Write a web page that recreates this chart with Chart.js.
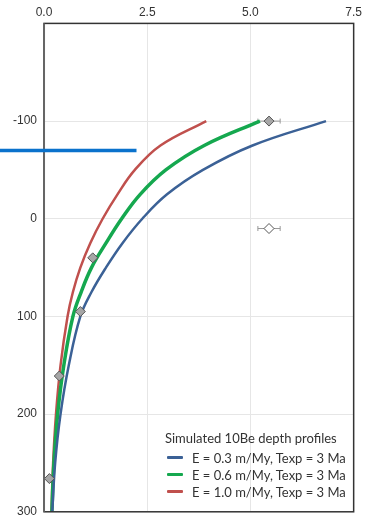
<!DOCTYPE html>
<html>
<head>
<meta charset="utf-8">
<script src="https://cdn.jsdelivr.net/npm/chart.js@4.4.1/dist/chart.umd.min.js"></script>
<style>
  html, body { margin: 0; padding: 0; background: #fff; }
  #wrap { position: relative; width: 366px; height: 520px; overflow: hidden; }
  #legend { position: absolute; left: 165px; top: 430px; font-family: Lato, "Open Sans", sans-serif; font-size: 13px; color: #333; }
  #legend .title { margin-bottom: 3px; }
  #legend .row { display: flex; align-items: center; height: 17px; padding-left: 2px; }
  #legend .swatch { width: 16px; height: 3px; margin-right: 9px; border-radius: 1px; }
</style>
</head>
<body>
<div id="wrap">
  <canvas id="chart" width="366" height="526"></canvas>
  <div id="legend"></div>
</div>
<script>
// Depth (cm) shared by the three simulated profiles
const depths = [-100, -75, -50, -25, 0, 25, 50, 75, 100, 150, 200, 250, 300];

// 10Be concentration
const profileLow  = [6.83, 5.05, 3.85, 2.98, 2.38, 1.9, 1.5, 1.15, 0.88, 0.6, 0.4, 0.27, 0.2];
const profileMid  = [5.23, 3.88, 2.95, 2.33, 1.88, 1.5, 1.15, 0.9, 0.7, 0.48, 0.33, 0.24, 0.19];
const profileHigh = [3.93, 2.82, 2.2, 1.78, 1.42, 1.12, 0.88, 0.7, 0.57, 0.4, 0.29, 0.22, 0.18];

const profileLabels = ["E = 0.3 m/My, Texp = 3 Ma", "E = 0.6 m/My, Texp = 3 Ma", "E = 1.0 m/My, Texp = 3 Ma"];
const profileColors = ["#3b6196", "#15a84f", "#c0504d"];
const legendTitle = "Simulated 10Be depth profiles";

// Measured samples (diamonds), the second one drawn hollow
const sampleConc  = [5.45, 5.45, 1.18, 0.88, 0.37, 0.13];
const sampleDepth = [-100, 10, 40, 95, 161, 266];
const sampleErr   = [0.27, 0.27, 0, 0, 0, 0];
const sampleFill  = ["#a6a6a6", "#ffffff", "#a6a6a6", "#a6a6a6", "#a6a6a6", "#a6a6a6"];

const xTicks = [0, 2.5, 5.0, 7.5];
const yTicks = [-100, 0, 100, 200, 300];

// Stray highlight bar on the figure
const markerBar = { depth: -70, concEnd: 2.24 };

const toPoints = (xs, ys) => xs.map((x, i) => ({ x, y: ys[i] }));

const lineSets = [profileLow, profileMid, profileHigh].map((vals, i) => ({
  label: profileLabels[i],
  data: toPoints(vals, depths),
  borderColor: profileColors[i],
  borderWidth: i === 1 ? 3.5 : 2.5,
  pointRadius: 0,
  tension: 0.4,
  showLine: true,
  fill: false,
  order: 2
}));

const sampleSet = {
  label: "samples",
  data: toPoints(sampleConc, sampleDepth),
  pointStyle: "rectRot",
  pointRadius: 5,
  pointBackgroundColor: sampleFill,
  pointBorderColor: "#555",
  pointBorderWidth: 1,
  showLine: false,
  order: 1
};

const framePlugin = {
  id: "frame",
  beforeDatasetsDraw(chart) {
    const { ctx, scales: { x, y } } = chart;
    // horizontal error bars
    ctx.save();
    ctx.strokeStyle = "#999";
    ctx.lineWidth = 1;
    sampleConc.forEach((c, i) => {
      if (!sampleErr[i]) return;
      const py = y.getPixelForValue(sampleDepth[i]);
      const x0 = x.getPixelForValue(c - sampleErr[i]);
      const x1 = x.getPixelForValue(c + sampleErr[i]);
      ctx.beginPath();
      ctx.moveTo(x0, py); ctx.lineTo(x1, py);
      ctx.moveTo(x0, py - 2.5); ctx.lineTo(x0, py + 2.5);
      ctx.moveTo(x1, py - 2.5); ctx.lineTo(x1, py + 2.5);
      ctx.stroke();
    });
    ctx.restore();
  },
  afterDraw(chart) {
    const { ctx, chartArea: a, scales: { x, y } } = chart;
    ctx.save();
    ctx.strokeStyle = "#333";
    ctx.lineWidth = 1.5;
    ctx.strokeRect(a.left, a.top, a.right - a.left, a.bottom - a.top);
    ctx.strokeStyle = "#666";
    ctx.lineWidth = 2;
    ctx.beginPath();
    ctx.moveTo(a.left, a.top); ctx.lineTo(a.left, a.bottom);
    ctx.stroke();
    // blue highlight bar
    ctx.strokeStyle = "#0a72cc";
    ctx.lineWidth = 3.5;
    const py = y.getPixelForValue(markerBar.depth);
    ctx.beginPath();
    ctx.moveTo(0, py);
    ctx.lineTo(x.getPixelForValue(markerBar.concEnd), py);
    ctx.stroke();
    ctx.restore();
  }
};

new Chart(document.getElementById("chart"), {
  type: "scatter",
  data: { datasets: [...lineSets, sampleSet] },
  options: {
    responsive: false,
    animation: false,
    layout: { padding: { left: 6, right: 6, top: 1, bottom: 0 } },
    plugins: { legend: { display: false }, tooltip: { enabled: false } },
    scales: {
      x: {
        type: "linear",
        position: "top",
        min: xTicks[0],
        max: xTicks[xTicks.length - 1],
        afterBuildTicks: (s) => { s.ticks = xTicks.map(v => ({ value: v })); },
        ticks: {
          color: "#333",
          padding: 4,
          font: { family: "'Liberation Sans', Arial, sans-serif", size: 12 },
          callback: v => v.toFixed(1)
        },
        grid: { color: "#e6e6e6", drawTicks: false },
        border: { display: false }
      },
      y: {
        type: "linear",
        reverse: true,
        min: -200,
        max: 300,
        afterBuildTicks: (s) => { s.ticks = [-200, ...yTicks].map(v => ({ value: v })); },
        ticks: {
          color: "#333",
          padding: 7,
          font: { family: "'Liberation Sans', Arial, sans-serif", size: 12 },
          callback: v => yTicks.includes(v) ? String(v) : ""
        },
        grid: { color: "#e6e6e6", drawTicks: false },
        border: { display: false }
      }
    }
  },
  plugins: [framePlugin]
});

// legend inside the plot, lower right
const legend = document.getElementById("legend");
legend.innerHTML = `<div class="title">${legendTitle}</div>` +
  profileLabels.map((l, i) =>
    `<div class="row"><span class="swatch" style="background:${profileColors[i]}"></span>${l}</div>`).join("");
</script>
</body>
</html>
